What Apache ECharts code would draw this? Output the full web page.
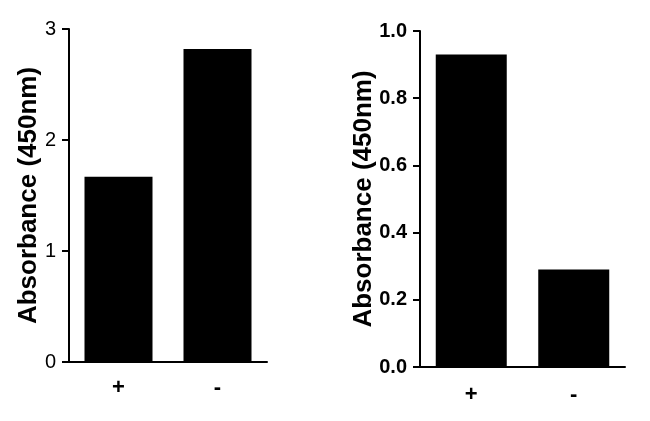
<!DOCTYPE html>
<html>
<head>
<meta charset="utf-8">
<script src="https://cdn.jsdelivr.net/npm/echarts@6/dist/echarts.min.js"></script>
<style>
html,body{margin:0;padding:0;background:#fff;}
#chart{width:650px;height:421px;}
</style>
</head>
<body>
<div id="chart"></div>
<script>
const categories = ['+', '-'];
const leftValues = [1.67, 2.82];
const rightValues = [0.93, 0.29];
const leftTicks = ['0', '1', '2', '3'];
const rightTicks = ['0.0', '0.2', '0.4', '0.6', '0.8', '1.0'];
const yTitle = 'Absorbance (450nm)';

const chart = echarts.init(document.getElementById('chart'), null, {renderer: 'canvas'});
const sans = '"Liberation Sans", Arial, sans-serif';
function xAxis(idx, margin) {
  return {
    type: 'category', gridIndex: idx, data: categories,
    axisLine: {lineStyle: {color: '#000', width: 2}},
    axisTick: {alignWithLabel: true, length: 10, lineStyle: {color: '#000', width: 2}},
    axisLabel: {color: '#000', fontFamily: sans, fontWeight: 'bold', fontSize: 22, margin: margin}
  };
}
function yAxis(idx, max, interval, ticks, weight, gap) {
  return {
    type: 'value', gridIndex: idx, min: 0, max: max, interval: interval,
    name: yTitle, nameLocation: 'middle', nameGap: gap, nameMoveOverlap: false,
    nameTextStyle: {color: '#000', fontFamily: sans, fontWeight: 'bold', fontSize: 26},
    splitLine: {show: false},
    axisLine: {show: true, lineStyle: {color: '#000', width: 2}},
    axisTick: {show: true, length: 7, lineStyle: {color: '#000', width: 2}},
    axisLabel: {
      color: '#000', fontFamily: sans, fontWeight: weight, fontSize: 20, margin: 13,
      formatter: function (v) { return ticks[Math.round(v / interval)]; }
    }
  };
}
chart.setOption({
  animation: false,
  backgroundColor: '#fff',
  grid: [
    {left: 69, top: 29, width: 198, height: 333},
    {left: 420, top: 31, width: 205, height: 336}
  ],
  xAxis: [xAxis(0, 15), xAxis(1, 17)],
  yAxis: [yAxis(0, 3, 1, leftTicks, 'normal', 27), yAxis(1, 1, 0.2, rightTicks, 'bold', 43)],
  series: [
    {type: 'bar', xAxisIndex: 0, yAxisIndex: 0, data: leftValues, barWidth: 68, itemStyle: {color: '#000'}},
    {type: 'bar', xAxisIndex: 1, yAxisIndex: 1, data: rightValues, barWidth: 71, itemStyle: {color: '#000'}}
  ]
});
</script>
</body>
</html>
